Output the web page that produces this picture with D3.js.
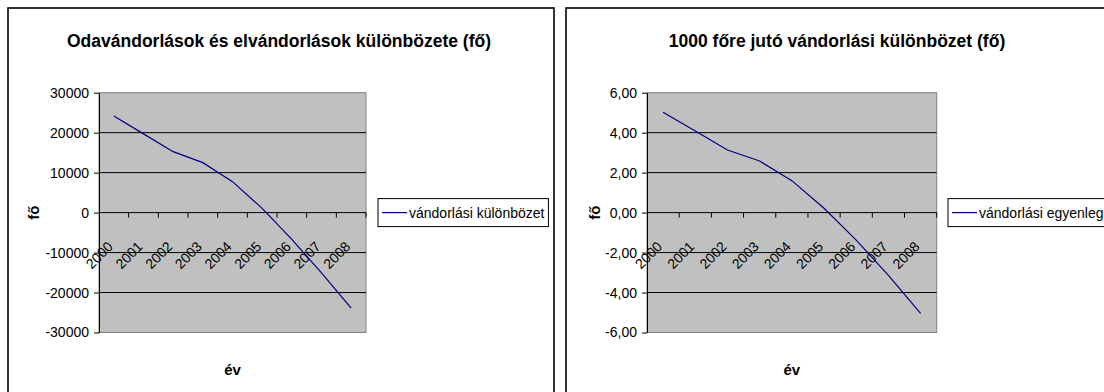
<!DOCTYPE html>
<html lang="hu">
<head>
<meta charset="utf-8">
<script src="https://cdn.jsdelivr.net/npm/d3@7/dist/d3.min.js"></script>
<style>
  html, body { margin: 0; padding: 0; background: #fff; }
  svg { display: block; font-family: "Liberation Sans", Arial, sans-serif; }
</style>
</head>
<body>
<svg id="chart" width="1104" height="392"></svg>
<script>
// Years shown on the category axis
const years = ["2000", "2001", "2002", "2003", "2004", "2005", "2006", "2007", "2008"];

// Net migration (in-migration minus out-migration), persons
const netMigration = [24150, 19700, 15250, 12500, 7750, 1050, -6700, -15100, -23900];

// Net migration per 1000 inhabitants
const netPer1000 = [5.02, 4.08, 3.13, 2.58, 1.60, 0.22, -1.38, -3.14, -5.04];

// Value-axis ticks
const leftTicks = [-30000, -20000, -10000, 0, 10000, 20000, 30000];
const rightTicks = [-6, -4, -2, 0, 2, 4, 6];

const huInt = d3.formatLocale({ decimal: ",", thousands: "", grouping: [3], currency: ["", " Ft"], minus: "-" });

const svg = d3.select("#chart");

function drawChart(cfg) {
  const g = svg.append("g");

  // Chart frame
  g.append("rect")
    .attr("x", cfg.box.x).attr("y", cfg.box.y)
    .attr("width", cfg.box.w).attr("height", cfg.box.h)
    .attr("fill", "#fff").attr("stroke", "#000").attr("stroke-width", 1.6);

  // Title
  g.append("text")
    .attr("x", cfg.box.x + cfg.box.w / 2 - 2).attr("y", 47)
    .attr("text-anchor", "middle")
    .attr("font-size", 17.5).attr("font-weight", "bold")
    .text(cfg.title);

  const p = cfg.plot;
  const x = d3.scaleBand().domain(years).range([p.left, p.right]).padding(0);
  const y = d3.scaleLinear().domain(cfg.domain).range([p.bottom, p.top]);

  // Plot area
  g.append("rect")
    .attr("x", p.left).attr("y", p.top)
    .attr("width", p.right - p.left).attr("height", p.bottom - p.top)
    .attr("fill", "#c0c0c0").attr("stroke", "#808080").attr("stroke-width", 1);

  // Horizontal gridlines
  g.append("g").selectAll("line")
    .data(cfg.ticks.filter(t => t !== 0 && t > cfg.domain[0] && t < cfg.domain[1]))
    .join("line")
    .attr("x1", p.left).attr("x2", p.right)
    .attr("y1", d => y(d)).attr("y2", d => y(d))
    .attr("stroke", "#000").attr("stroke-width", 1);

  // Value axis
  const yAxis = d3.axisLeft(y)
    .tickValues(cfg.ticks)
    .tickFormat(cfg.format)
    .tickSizeInner(5).tickSizeOuter(0).tickPadding(5);
  const ya = g.append("g").attr("transform", `translate(${p.left},0)`).call(yAxis);
  ya.select(".domain").attr("stroke", "#000");
  ya.selectAll(".tick line").attr("stroke", "#000");
  ya.selectAll(".tick text")
    .attr("font-size", 14).attr("fill", "#000")
    .attr("font-family", "Liberation Sans, Arial, sans-serif");

  // Category axis drawn at zero
  const y0 = y(0);
  g.append("line")
    .attr("x1", p.left).attr("x2", p.right)
    .attr("y1", y0).attr("y2", y0)
    .attr("stroke", "#000").attr("stroke-width", 1);
  const bounds = years.map(d => x(d)).slice(1).concat([x.range()[1]]);
  g.append("g").selectAll("line")
    .data(bounds)
    .join("line")
    .attr("x1", d => d).attr("x2", d => d)
    .attr("y1", y0).attr("y2", y0 + 5)
    .attr("stroke", "#000").attr("stroke-width", 1);

  // Rotated category labels
  g.append("g").selectAll("text")
    .data(years)
    .join("text")
    .attr("transform", d => `translate(${x(d) + x.bandwidth() / 2},${y0 + 35}) rotate(-45)`)
    .attr("text-anchor", "end")
    .attr("font-size", 14)
    .text(d => d);

  // Series line
  const line = d3.line()
    .x((d, i) => x(years[i]) + x.bandwidth() / 2)
    .y(d => y(d));
  g.append("path")
    .datum(cfg.values)
    .attr("d", line)
    .attr("fill", "none")
    .attr("stroke", "#000080")
    .attr("stroke-width", 1.2);

  // Axis titles
  const cy = (p.top + p.bottom) / 2;
  g.append("text")
    .attr("transform", `translate(${cfg.yTitleX},${cy}) rotate(-90)`)
    .attr("text-anchor", "middle").attr("dy", "0.35em")
    .attr("font-size", 15).attr("font-weight", "bold")
    .text("fő");
  g.append("text")
    .attr("x", (p.left + p.right) / 2).attr("y", 375)
    .attr("text-anchor", "middle")
    .attr("font-size", 15).attr("font-weight", "bold")
    .text("év");

  // Legend
  const lg = g.append("g").attr("transform", `translate(${cfg.legendX},${cy})`);
  const lbox = lg.append("rect").attr("fill", "#fff").attr("stroke", "#000").attr("stroke-width", 1);
  lg.append("line")
    .attr("x1", 4).attr("x2", 29).attr("y1", 0).attr("y2", 0)
    .attr("stroke", "#000080").attr("stroke-width", 1.2);
  const lt = lg.append("text")
    .attr("x", 31).attr("dy", "0.35em")
    .attr("font-size", 14)
    .text(cfg.legend);
  const tw = lt.node().getComputedTextLength();
  lbox.attr("x", 0).attr("y", -14).attr("width", 31 + tw + 4).attr("height", 28);
}

drawChart({
  box: { x: 8, y: 8, w: 546, h: 400 },
  plot: { left: 99, right: 366, top: 92.7, bottom: 332.5 },
  domain: [-30000, 30000],
  ticks: leftTicks,
  format: huInt.format("d"),
  values: netMigration,
  title: "Odavándorlások és elvándorlások különbözete (fő)",
  legend: "vándorlási különbözet",
  legendX: 378,
  yTitleX: 33.5
});

drawChart({
  box: { x: 566, y: 8, w: 546, h: 400 },
  plot: { left: 647, right: 936.7, top: 92.7, bottom: 332.5 },
  domain: [-6, 6],
  ticks: rightTicks,
  format: huInt.format(".2f"),
  values: netPer1000,
  title: "1000 főre jutó vándorlási különbözet (fő)",
  legend: "vándorlási egyenleg",
  legendX: 948,
  yTitleX: 595
});
</script>
</body>
</html>
